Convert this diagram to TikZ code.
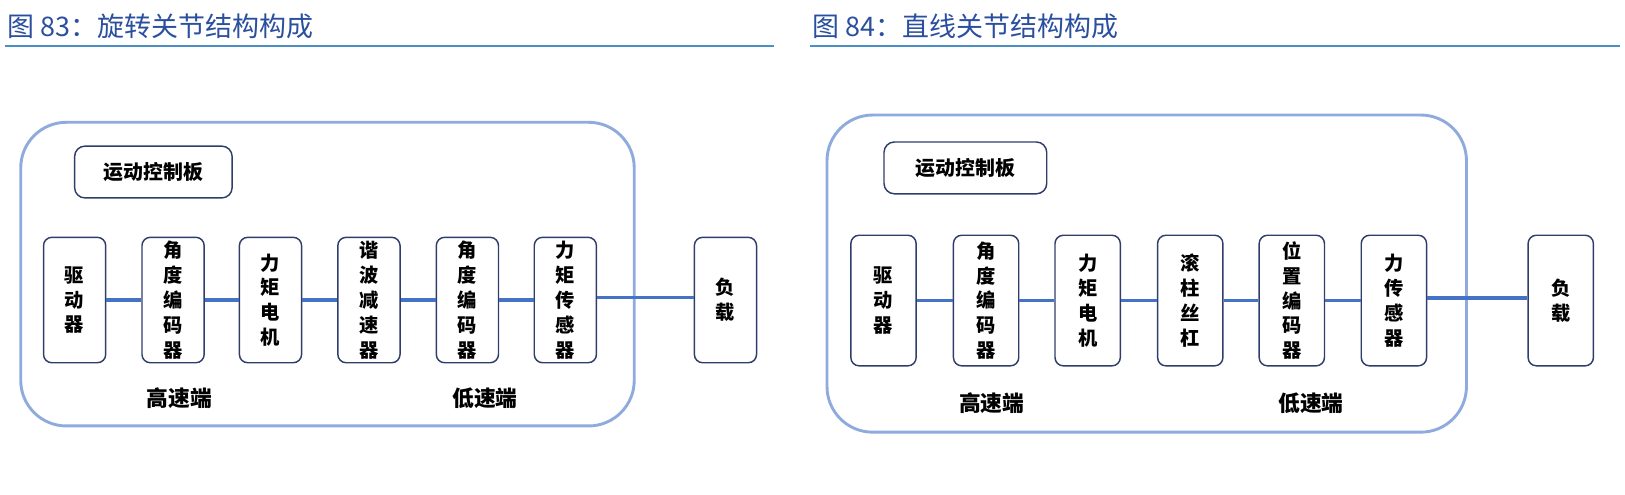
\documentclass[tikz,border=0pt]{standalone}
\usepackage{fontspec}
\setmainfont{Noto Sans CJK SC}
\newfontfamily\cjk{Noto Sans CJK SC}
\definecolor{titleblue}{HTML}{2A4F9E}
\definecolor{rulecol}{HTML}{4A90C4}
\definecolor{outercol}{HTML}{8FAADC}
\definecolor{boxcol}{HTML}{2F3D6B}
\definecolor{linkcol}{HTML}{4472C4}
\tikzset{
  comp/.style={draw=boxcol, line width=0.7pt, rounded corners=4pt, align=center,
    font=\fontsize{9.3}{12}\selectfont\bfseries, inner sep=0pt},
  ctrl/.style={draw=boxcol, line width=0.7pt, rounded corners=5pt, align=center,
    font=\fontsize{9.6}{12}\selectfont\bfseries, inner sep=0pt},
  outer/.style={draw=outercol, line width=1.4pt, rounded corners=22pt},
  link/.style={draw=linkcol, line width=1.6pt},
  ttl/.style={anchor=west, text=titleblue, font=\fontsize{13}{15}\selectfont, inner sep=0pt},
  rul/.style={draw=rulecol, line width=1pt},
  side/.style={font=\fontsize{10.5}{13}\selectfont\bfseries, inner sep=0pt}
}
\begin{document}
\begin{tikzpicture}[x=0.5pt,y=-0.5pt]
\useasboundingbox (0,0) rectangle (1568,477);
% titles
\node[ttl] (t1) at (7,25) {图 83：旋转关节结构构成};
\node[ttl] (t2) at (784,25) {图 84：直线关节结构构成};
\coordinate (r1a) at (5,44); \coordinate (r1b) at (747,44);
\coordinate (r2a) at (782,44); \coordinate (r2b) at (1563,44);
\draw[rul] (r1a) -- (r1b);
\draw[rul] (r2a) -- (r2b);
% ---------- left panel ----------
\draw[outer] (20,118) rectangle (612,411);
\node[ctrl, minimum width=76pt, minimum height=25pt] (c1) at (148,166) {运动控制板};
\tikzset{lb/.style={comp, minimum width=30pt, minimum height=60.5pt}}
\node[lb] (a1) at (72,289.5) {驱\\动\\器};
\node[lb] (a2) at (167,289.5) {角\\度\\编\\码\\器};
\node[lb] (a3) at (261,289.5) {力\\矩\\电\\机};
\node[lb] (a4) at (356,289.5) {谐\\波\\减\\速\\器};
\node[lb] (a5) at (451,289.5) {角\\度\\编\\码\\器};
\node[lb] (a6) at (545.5,289.5) {力\\矩\\传\\感\\器};
\node[lb] (a7) at (700,289.5) {负\\载};
\draw[link] (a1) -- (a2);
\draw[link] (a2) -- (a3);
\draw[link] (a3) -- (a4);
\draw[link] (a4) -- (a5);
\draw[link] (a5) -- (a6);
\draw[link] ([yshift=1.2pt]a6.east) -- ([yshift=1.2pt]a7.west);
\node[side] (h1) at (173,384) {高速端};
\node[side] (l1) at (468,384) {低速端};
% ---------- right panel ----------
\draw[outer] (798,111) rectangle (1415,417);
\node[ctrl, minimum width=78.5pt, minimum height=25pt] (c2) at (931.5,162) {运动控制板};
\tikzset{rb/.style={comp, minimum width=31.5pt, minimum height=63pt}}
\node[rb] (b1) at (852.5,290) {驱\\动\\器};
\node[rb] (b2) at (951.5,290) {角\\度\\编\\码\\器};
\node[rb] (b3) at (1049.5,290) {力\\矩\\电\\机};
\node[rb] (b4) at (1148.5,290) {滚\\柱\\丝\\杠};
\node[rb] (b5) at (1246.5,290) {位\\置\\编\\码\\器};
\node[rb] (b6) at (1345,290) {力\\传\\感\\器};
\node[rb] (b7) at (1506,290) {负\\载};
\draw[link] (b1) -- (b2);
\draw[link] (b2) -- (b3);
\draw[link] (b3) -- (b4);
\draw[link] (b4) -- (b5);
\draw[link] (b5) -- (b6);
\draw[link] ([yshift=1.2pt]b6.east) -- ([yshift=1.2pt]b7.west);
\node[side] (h2) at (957,389) {高速端};
\node[side] (l2) at (1265,389) {低速端};
\end{tikzpicture}
\end{document}
